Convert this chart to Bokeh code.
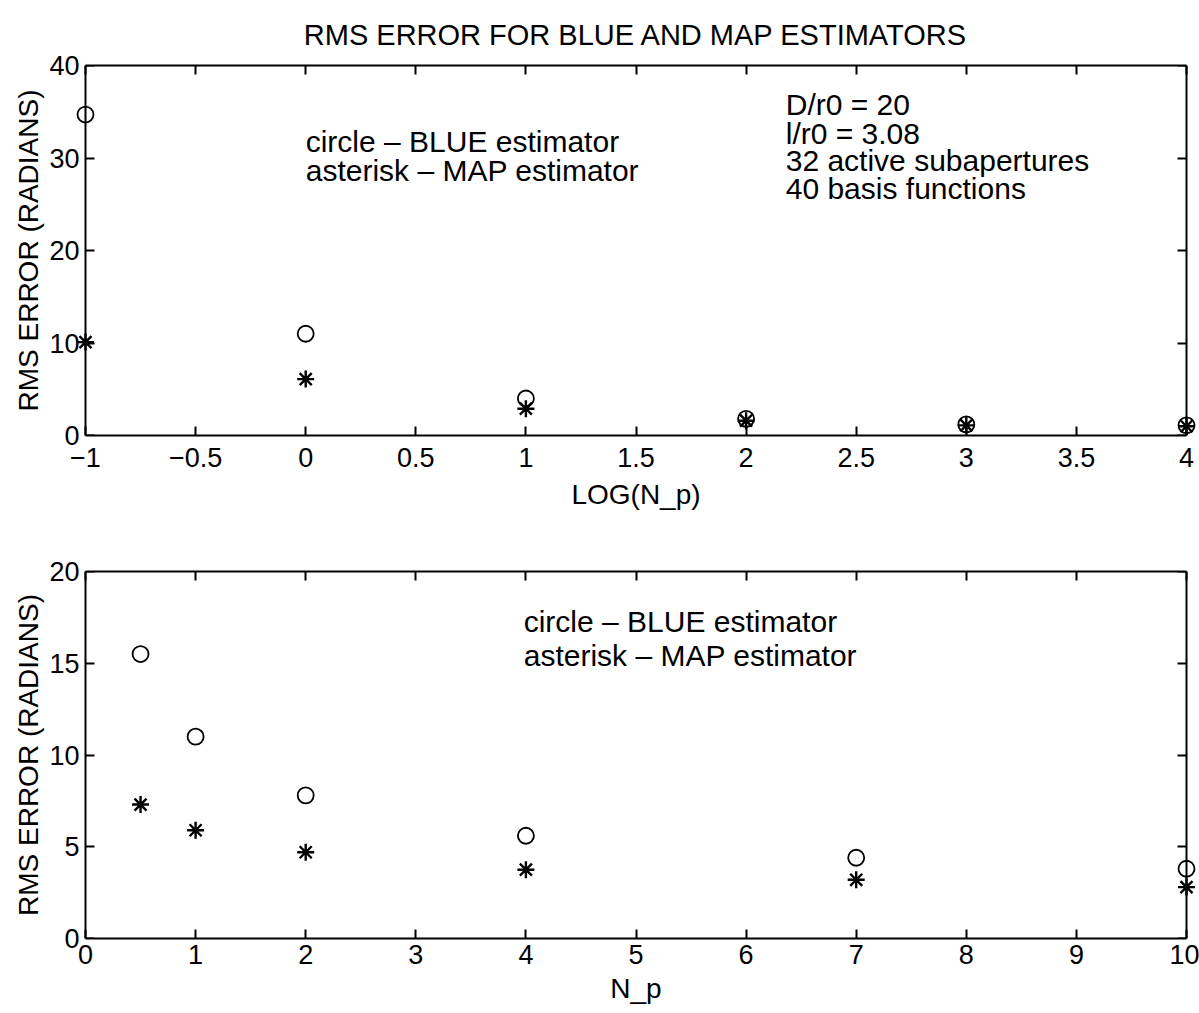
from bokeh.plotting import figure
from bokeh.models import LinearAxis, FixedTicker, Range1d
from bokeh.layouts import column
from bokeh.core.properties import value
from bokeh.embed import file_html
from bokeh.resources import INLINE

# ---- data ----
log_np = [-1, 0, 1, 2, 3, 4]
blue_log = [34.7, 11.0, 4.0, 1.8, 1.2, 1.1]
map_log = [10.1, 6.1, 2.9, 1.6, 1.1, 1.0]

n_p = [0.5, 1, 2, 4, 7, 10]
blue_np = [15.5, 11.0, 7.8, 5.6, 4.4, 3.8]
map_np = [7.3, 5.9, 4.7, 3.75, 3.2, 2.8]

title_text = "RMS ERROR FOR BLUE AND MAP ESTIMATORS"
ylabel = "RMS ERROR (RADIANS)"
legend_lines = ["circle \u2013 BLUE estimator", "asterisk \u2013 MAP estimator"]
param_lines = ["D/r0 = 20", "l/r0 = 3.08", "32 active subapertures", "40 basis functions"]

top_xlim = (-1, 4)
top_ylim = (0, 40)
bot_xlim = (0, 10)
bot_ylim = (0, 20)
top_xticks = [-1, -0.5, 0, 0.5, 1, 1.5, 2, 2.5, 3, 3.5, 4]
top_yticks = [0, 10, 20, 30, 40]
bot_xticks = list(range(0, 11))
bot_yticks = [0, 5, 10, 15, 20]

FONT = "Liberation Sans"
BOX_W = 1101   # px width of the axes box
PAD = 10       # px of room on each side so edge markers are not cut


def style_axis(ax, ticks, show_labels=True, show_line=True):
    ax.ticker = FixedTicker(ticks=ticks)
    if show_line:
        ax.axis_line_color = "black"
        ax.axis_line_width = 2
        ax.major_tick_in = 9
        ax.major_tick_out = 0
        ax.major_tick_line_width = 2
        ax.major_tick_line_color = "black"
    else:
        ax.axis_line_color = None
        ax.major_tick_line_color = None
        ax.major_tick_in = 0
        ax.major_tick_out = 0
    ax.minor_tick_line_color = None
    ax.major_label_text_font = FONT
    ax.major_label_text_color = "black"
    ax.major_label_standoff = 6
    if show_labels:
        ax.major_label_text_font_size = "27px"
    else:
        ax.major_label_text_font_size = "0px"
        ax.major_label_standoff = 0
    ax.axis_label_text_font = FONT
    ax.axis_label_text_font_style = "normal"
    ax.axis_label_text_font_size = "28px"
    ax.axis_label_text_color = "black"


def make_fig(xlim, ylim, xticks, yticks, xlabel, frame_h, top_border, bottom_border,
             xlabel_standoff=6, xtick_standoff=6, xoverrides=None):
    span = xlim[1] - xlim[0]
    pad = PAD * span / BOX_W
    p = figure(
        frame_width=BOX_W + 2 * PAD, frame_height=frame_h,
        x_range=Range1d(xlim[0] - pad, xlim[1] + pad), y_range=Range1d(*ylim),
        output_backend="svg", toolbar_location=None,
        min_border_left=85 - PAD, min_border_right=13 - PAD,
        min_border_top=top_border, min_border_bottom=bottom_border,
    )
    p.grid.visible = False
    p.outline_line_color = None
    p.background_fill_color = "white"
    p.border_fill_color = "white"
    # bottom axis
    bx = p.xaxis[0]
    style_axis(bx, xticks)
    bx.bounds = xlim
    bx.axis_label = xlabel
    bx.axis_label_standoff = xlabel_standoff
    bx.major_label_standoff = xtick_standoff
    if xoverrides:
        bx.major_label_overrides = xoverrides
    # left axis: labels only (sits at frame edge)
    ly = p.yaxis[0]
    style_axis(ly, yticks, show_line=False)
    ly.major_label_standoff = -4
    ly.axis_label = ylabel
    ly.axis_label_standoff = 2
    # left box edge with inward ticks, pinned to the box edge
    ax_left_line = LinearAxis(fixed_location=xlim[0])
    style_axis(ax_left_line, yticks, show_labels=False)
    p.add_layout(ax_left_line, "left")
    # top axis
    ax_top = LinearAxis(bounds=xlim)
    style_axis(ax_top, xticks, show_labels=False)
    p.add_layout(ax_top, "above")
    # right axis, pinned to the box edge
    ax_right = LinearAxis(fixed_location=xlim[1])
    style_axis(ax_right, yticks, show_labels=False)
    p.add_layout(ax_right, "right")
    return p


# ---- top plot ----
p1 = make_fig(top_xlim, top_ylim, top_xticks, top_yticks, "LOG(N_p)", 370, 65, 82,
              xlabel_standoff=9, xtick_standoff=12,
              xoverrides={-1: "\u22121", -0.5: "\u22120.5"})
p1.title.text = title_text
p1.title.align = "center"
p1.title.text_font = FONT
p1.title.text_font_style = "normal"
p1.title.text_font_size = "29px"
p1.title.text_color = "black"
p1.title.standoff = 30

p1.scatter(log_np, blue_log, marker="circle", size=16, fill_color=None,
           line_color="black", line_width=1.8)
p1.scatter(log_np, map_log, marker="asterisk", size=17,
           line_color="black", line_width=2.4)

p1.text(x=[0.0, 0.0], y=[31.8, 28.6], text=legend_lines,
        text_font=value(FONT), text_font_size="30px", text_color="black",
        text_baseline="middle", text_align="left")
p1.text(x=[2.18, 2.18, 2.18, 2.18], y=[35.8, 32.7, 29.7, 26.7], text=param_lines,
        text_font=value(FONT), text_font_size="30px", text_color="black",
        text_baseline="middle", text_align="left")

# ---- bottom plot ----
p2 = make_fig(bot_xlim, bot_ylim, bot_xticks, bot_yticks, "N_p", 367, 54, 75)

p2.scatter(n_p, blue_np, marker="circle", size=16, fill_color=None,
           line_color="black", line_width=1.8)
p2.scatter(n_p, map_np, marker="asterisk", size=17,
           line_color="black", line_width=2.4)

p2.text(x=[3.98, 3.98], y=[17.3, 15.4], text=legend_lines,
        text_font=value(FONT), text_font_size="30px", text_color="black",
        text_baseline="middle", text_align="left")

layout = column(p1, p2, spacing=0)

open("out.html", "w").write(file_html(layout, INLINE))
